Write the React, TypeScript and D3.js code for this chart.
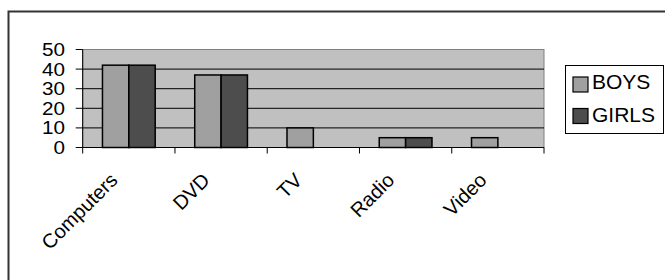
import React, { useEffect, useRef } from "react";
import * as d3 from "d3";

const categories = ["Computers", "DVD", "TV", "Radio", "Video"];
const seriesNames = ["BOYS", "GIRLS"];
const boys = [42, 37, 10, 5, 5];
const girls = [42, 37, 0, 5, 0];
const yTicks = [0, 10, 20, 30, 40, 50];

const colors = ["#a0a0a0", "#4d4d4d"];
const FONT = "'Liberation Sans', Arial, sans-serif";

function App() {
  const ref = useRef<SVGSVGElement | null>(null);

  useEffect(() => {
    if (!ref.current) return;
    const svg = d3.select(ref.current);
    svg.selectAll("*").remove();

    const left = 82.7;
    const right = 544;
    const top = 49.5;
    const bottom = 147.5;

    const x = d3.scaleBand<string>().domain(categories).range([left, right]).padding(0);
    const xs = d3
      .scaleBand<string>()
      .domain(seriesNames)
      .range([0, x.bandwidth()])
      .paddingInner(0)
      .paddingOuter(0.75);
    const y = d3.scaleLinear().domain([0, 50]).range([bottom, top]);

    // outer frame
    svg
      .append("rect")
      .attr("x", 8.5)
      .attr("y", 11.5)
      .attr("width", 700)
      .attr("height", 300)
      .attr("fill", "none")
      .attr("stroke", "#333")
      .attr("stroke-width", 2);

    // plot area
    svg
      .append("rect")
      .attr("x", left)
      .attr("y", top)
      .attr("width", right - left)
      .attr("height", bottom - top)
      .attr("fill", "#c0c0c0")
      .attr("stroke", "#808080")
      .attr("stroke-width", 1);

    // gridlines
    svg
      .append("g")
      .selectAll("line")
      .data(yTicks.filter((t) => t > 0 && t < 50))
      .join("line")
      .attr("x1", left)
      .attr("x2", right)
      .attr("y1", (d) => y(d))
      .attr("y2", (d) => y(d))
      .attr("stroke", "#000")
      .attr("stroke-width", 1);

    const rows = categories.map((c, i) => ({ c, vals: [boys[i], girls[i]] }));
    const groups = svg
      .append("g")
      .selectAll("g")
      .data(rows)
      .join("g")
      .attr("transform", (d) => `translate(${x(d.c)},0)`);

    groups
      .selectAll("rect")
      .data((d) => d.vals.map((v, i) => ({ key: seriesNames[i], v, i })).filter((e) => e.v > 0))
      .join("rect")
      .attr("x", (d) => xs(d.key)!)
      .attr("width", xs.bandwidth())
      .attr("y", (d) => y(d.v))
      .attr("height", (d) => bottom - y(d.v))
      .attr("fill", (d) => colors[d.i])
      .attr("stroke", "#000")
      .attr("stroke-width", 1.5);

    // y axis
    const yAxis = svg.append("g");
    yAxis
      .append("line")
      .attr("x1", left)
      .attr("x2", left)
      .attr("y1", top)
      .attr("y2", bottom)
      .attr("stroke", "#000");
    yAxis
      .selectAll("line.tick")
      .data(yTicks)
      .join("line")
      .attr("class", "tick")
      .attr("x1", left - 7)
      .attr("x2", left)
      .attr("y1", (d) => y(d))
      .attr("y2", (d) => y(d))
      .attr("stroke", "#000");
    yAxis
      .selectAll("text")
      .data(yTicks)
      .join("text")
      .attr("transform", (d) => `translate(65,${y(d)}) scale(1.15,1)`)
      .attr("dy", "0.36em")
      .attr("text-anchor", "end")
      .attr("font-family", FONT)
      .attr("font-size", 18)
      .text((d) => d);

    // x axis
    const xAxis = svg.append("g");
    xAxis
      .append("line")
      .attr("x1", left)
      .attr("x2", right)
      .attr("y1", bottom)
      .attr("y2", bottom)
      .attr("stroke", "#000");
    const bounds = [...categories.map((c) => x(c)!), right];
    xAxis
      .selectAll("line.tick")
      .data(bounds)
      .join("line")
      .attr("class", "tick")
      .attr("x1", (d) => d)
      .attr("x2", (d) => d)
      .attr("y1", bottom)
      .attr("y2", bottom + 6)
      .attr("stroke", "#000");
    xAxis
      .selectAll("text")
      .data(categories)
      .join("text")
      .attr("transform", (d) => `translate(${x(d)! + x.bandwidth() / 2 - 10},${bottom + 34}) rotate(-45)`)
      .attr("text-anchor", "end")
      .attr("font-family", FONT)
      .attr("font-size", 20)
      .text((d) => d);

    // legend
    const lg = svg.append("g");
    lg.append("rect")
      .attr("x", 565.5)
      .attr("y", 65.5)
      .attr("width", 98)
      .attr("height", 68)
      .attr("fill", "#fff")
      .attr("stroke", "#000");
    seriesNames.forEach((s, i) => {
      lg.append("rect")
        .attr("x", 573)
        .attr("y", 77 + i * 31.5)
        .attr("width", 15)
        .attr("height", 15)
        .attr("fill", colors[i])
        .attr("stroke", "#000")
        .attr("stroke-width", 1.2);
      lg.append("text")
        .attr("x", 592)
        .attr("y", 89 + i * 33)
        .attr("font-family", FONT)
        .attr("font-size", 21)
        .text(s);
    });
  }, []);

  return (
    <div style={{ position: "fixed", left: 0, top: 0, width: 665, height: 280, background: "#fff" }}>
      <svg ref={ref} width={665} height={280} />
    </div>
  );
}

export default App;
